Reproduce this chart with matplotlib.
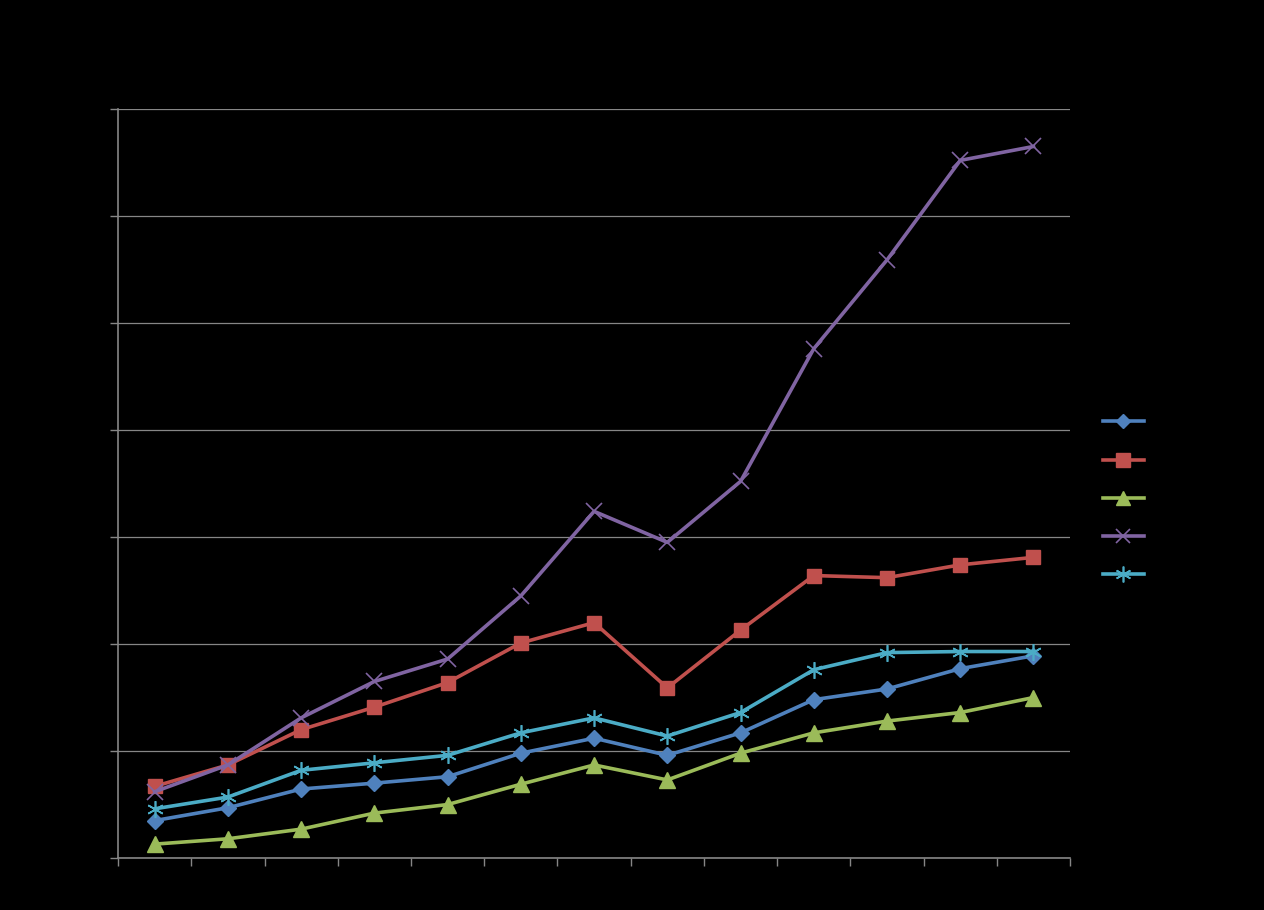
import matplotlib
matplotlib.use("Agg")
import matplotlib.pyplot as plt

# values (gridline unit = 1)
categories = list(range(13))
series_names = ["Series1", "Series2", "Series3", "Series4", "Series5"]
blue = [0.35, 0.47, 0.645, 0.70, 0.76, 0.98, 1.12, 0.96, 1.17, 1.48, 1.58, 1.77, 1.89]
red = [0.67, 0.87, 1.20, 1.41, 1.64, 2.01, 2.20, 1.59, 2.13, 2.64, 2.62, 2.74, 2.81]
green = [0.13, 0.18, 0.27, 0.42, 0.50, 0.69, 0.87, 0.73, 0.98, 1.17, 1.28, 1.36, 1.50]
purple = [0.62, 0.87, 1.31, 1.65, 1.86, 2.45, 3.24, 2.95, 3.52, 4.76, 5.59, 6.52, 6.65]
cyan = [0.46, 0.57, 0.82, 0.89, 0.96, 1.17, 1.31, 1.14, 1.36, 1.76, 1.92, 1.93, 1.93]

colors = ["#4F81BD", "#C0504D", "#9BBB59", "#8064A2", "#4BACC6"]
markers = ["D", "s", "^", "x", "*"]
msizes = [8, 10, 11, 11, 12]

fig = plt.figure(figsize=(12.64, 9.10), dpi=100, facecolor="black")
ax = fig.add_axes([0.0934, 0.0571, 0.7532, 0.8231], facecolor="black")

grid_c = "#868686"
for vals, c, m, ms, name in zip([blue, red, green, purple, cyan], colors, markers, msizes, series_names):
    if m in ("x", "*"):
        # thin line-like markers
        mk = "x" if m == "x" else (6, 2, 0)
        ax.plot(categories, vals, color=c, lw=2.6, marker=mk, ms=ms,
                markeredgewidth=1.2, label=name, zorder=3)
    else:
        ax.plot(categories, vals, color=c, lw=2.6, marker=m, ms=ms,
                markeredgecolor=c, label=name, zorder=3)

ax.set_xlim(-0.5, 12.5)
ax.set_ylim(0, 7)
ax.set_xticks([i - 0.5 for i in range(14)])
ax.set_yticks(range(8))
ax.set_xticklabels([])
ax.set_yticklabels([])
ax.grid(axis="y", color=grid_c, lw=0.9)
ax.set_axisbelow(True)
for s in ["top", "right"]:
    ax.spines[s].set_visible(False)
for s in ["left", "bottom"]:
    ax.spines[s].set_color(grid_c)
    ax.spines[s].set_linewidth(1.2)
ax.tick_params(axis="both", colors=grid_c, length=6, width=1, direction="out")

leg = fig.legend(loc="center left", bbox_to_anchor=(0.863, 0.452), frameon=False,
                 handlelength=2.9, labelspacing=1.75, fontsize=10, markerscale=0.95)
for t in leg.get_texts():
    t.set_color("black")

fig.savefig("out.png", dpi=100, facecolor="black")
